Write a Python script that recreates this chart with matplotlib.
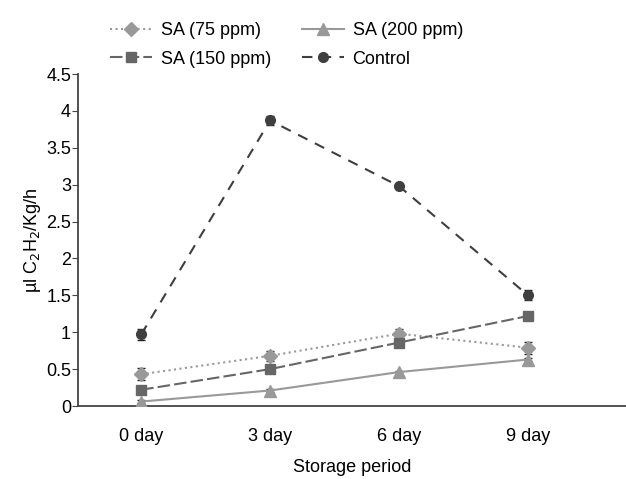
import matplotlib
matplotlib.use("Agg")
import matplotlib.pyplot as plt
from matplotlib.lines import Line2D

plt.rcParams['font.family'] = ['Liberation Sans', 'DejaVu Sans']

categories = ["0 day", "3 day", "6 day", "9 day"]
sa75 = [0.43, 0.68, 0.98, 0.79]
sa75_err = [0.08, 0.07, 0.07, 0.08]
sa200 = [0.06, 0.21, 0.46, 0.63]
sa200_err = [0.02, 0.02, 0.02, 0.02]
sa150 = [0.22, 0.50, 0.86, 1.22]
sa150_err = [0.02, 0.03, 0.03, 0.03]
control = [0.97, 3.87, 2.98, 1.50]
control_err = [0.07, 0.06, 0.03, 0.07]
yticks = [0, 0.5, 1, 1.5, 2, 2.5, 3, 3.5, 4, 4.5]
ytick_labels = ["0", "0.5", "1", "1.5", "2", "2.5", "3", "3.5", "4", "4.5"]

fig = plt.figure(figsize=(6.26, 4.79), dpi=100)
ax = fig.add_axes([0.1246, 0.1524, 0.8754, 0.6931])
x = list(range(len(categories)))

styles = {
    'SA (75 ppm)': dict(color='#999999', ls=':', marker='D', ms=7),
    'SA (150 ppm)': dict(color='#666666', ls=(0, (6, 2)), marker='s', ms=7),
    'SA (200 ppm)': dict(color='#999999', ls='-', marker='^', ms=9),
    'Control': dict(color='#3f3f3f', ls=(0, (5, 4)), marker='o', ms=7),
}

ax.errorbar(x, control, yerr=control_err, lw=1.5, ecolor='#222222', elinewidth=1.2,
            capsize=3, zorder=3, **styles['Control'])
ax.errorbar(x, sa75, yerr=sa75_err, lw=1.5, ecolor='#222222', elinewidth=1.2,
            capsize=3, zorder=4, **styles['SA (75 ppm)'])
ax.errorbar(x, sa150, yerr=sa150_err, lw=1.5, ecolor='#222222', elinewidth=1.2,
            capsize=3, zorder=4, **styles['SA (150 ppm)'])
ax.errorbar(x, sa200, yerr=sa200_err, lw=1.5, ecolor='#222222', elinewidth=1.2,
            capsize=3, zorder=4, **styles['SA (200 ppm)'])

ax.set_xlim(-0.49, 3.76)
ax.set_ylim(0, 4.5)
ax.set_yticks(yticks)
ax.set_yticklabels(ytick_labels, fontsize=13)
ax.set_xticks(x)
ax.set_xticklabels(categories, fontsize=13)
ax.tick_params(axis='x', length=0, pad=16)
ax.tick_params(axis='y', length=4, direction='out', color='#444444', pad=1)
for s in ['top', 'right']:
    ax.spines[s].set_visible(False)
for s in ['left', 'bottom']:
    ax.spines[s].set_color('#444444')
    ax.spines[s].set_linewidth(1.3)

ax.set_ylabel("µl C$_2$H$_2$/Kg/h", fontsize=13, labelpad=2)
ax.set_xlabel("Storage period", fontsize=13, labelpad=10)

leg_labels = ["SA (75 ppm)", "SA (150 ppm)", "SA (200 ppm)", "Control"]
leg_handles = [Line2D([], [], lw=1.5, **styles[l]) for l in leg_labels]
fig.legend(leg_handles, leg_labels, loc='upper center',
           bbox_to_anchor=(0.458, 0.988), ncol=2, frameon=False, fontsize=13,
           columnspacing=1.7, handlelength=2.3, handletextpad=0.5, labelspacing=0.65)

fig.savefig("out.png", dpi=100)
